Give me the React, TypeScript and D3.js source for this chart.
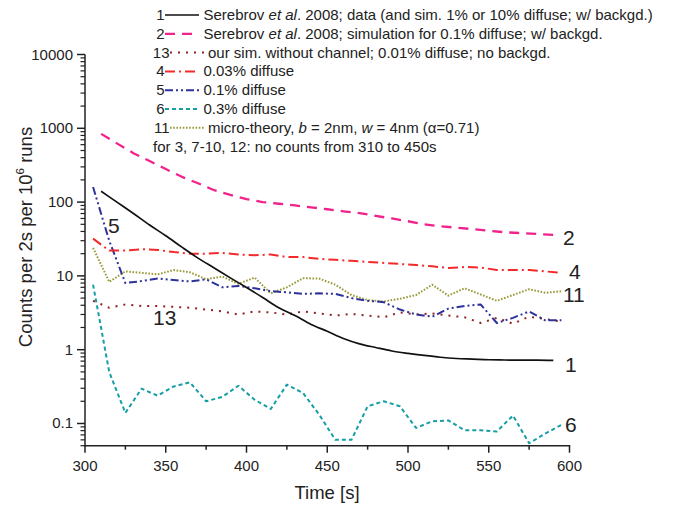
import * as d3 from "d3";

// time grids (s)
const tOdd = [305, 315, 325, 335, 345, 355, 365, 375, 385, 395, 405, 415, 425, 435, 445, 455, 465, 475, 485, 495, 505, 515, 525, 535, 545, 555, 565, 575, 585, 595];
const tEven = [310, 320, 330, 340, 350, 360, 370, 380, 390, 400, 410, 420, 430, 440, 450, 460, 470, 480, 490, 500, 510, 520, 530, 540, 550, 560, 570, 580, 590];

// 1: Serebrov data
const s1 = [140, 99, 70, 49, 35, 24.5, 17.4, 12.8, 9.4, 6.95, 5.1, 3.7, 2.9, 2.2, 1.78, 1.42, 1.2, 1.07, 0.96, 0.89, 0.835, 0.79, 0.76, 0.745, 0.73, 0.725, 0.72, 0.72, 0.715];
// 2: Serebrov simulation
const s2 = [840, 620, 460, 360, 280, 220, 180, 145, 125, 110, 100, 95, 90, 85, 80, 75, 71, 65, 60, 55, 50, 47, 45, 43, 41, 39, 38, 37, 36];
// 13: our sim without channel
const s13 = [4.6, 3.7, 4.1, 3.9, 3.9, 3.8, 3.7, 3.5, 3.3, 3.0, 3.3, 3.2, 3.0, 3.3, 3.1, 2.9, 3.05, 2.9, 2.75, 3.2, 3.0, 3.1, 2.9, 2.75, 2.3, 2.7, 2.25, 2.8, 2.6, 2.4];
// 4: 0.03% diffuse
const s4 = [32, 22, 22, 23, 22.5, 21, 20, 20, 20.5, 19.5, 19, 19.5, 18, 18, 17, 16.5, 16, 15.5, 15, 14.5, 14, 13.5, 12.8, 13.2, 13, 12, 12, 12, 11.5, 11];
// 5: 0.1% diffuse
const s5 = [160, 30, 8, 8.5, 9.2, 8.8, 8.4, 9, 7, 7.3, 6.8, 6.2, 6, 5.7, 5.8, 5.7, 5, 4.6, 4.4, 3.5, 3.0, 2.8, 3.6, 3.9, 4.1, 2.3, 2.7, 3.3, 2.5, 2.5];
// 6: 0.3% diffuse
const s6 = [7.6, 0.5, 0.139, 0.296, 0.238, 0.318, 0.361, 0.2, 0.229, 0.325, 0.21, 0.157, 0.336, 0.259, 0.132, 0.06, 0.06, 0.171, 0.2, 0.171, 0.087, 0.107, 0.11, 0.081, 0.081, 0.078, 0.128, 0.054, 0.073, 0.096];
// 11: micro-theory
const s11 = [24, 8.3, 11.5, 11, 10.5, 12, 11.2, 9, 9.8, 7.8, 9.5, 5.8, 7.0, 9.3, 9.2, 7.6, 5.5, 4.7, 4.5, 4.9, 5.5, 7.6, 5.4, 6.8, 5.6, 4.6, 5.5, 6.6, 5.9, 6.2];

const xTicks = [300, 350, 400, 450, 500, 550, 600];
const yTicks = [0.1, 1, 10, 100, 1000, 10000];

const FONT = "'Liberation Sans', Arial, Helvetica, sans-serif";

const styles: Record<string, { color: string; dash: string; width: number }> = {
  "1": { color: "#111", dash: "", width: 1.7 },
  "2": { color: "#f0228c", dash: "10,7", width: 2.3 },
  "13": { color: "#8e2323", dash: "2,6", width: 2 },
  "4": { color: "#f42a2a", dash: "10,4,2,4", width: 2 },
  "5": { color: "#2e329c", dash: "8,3,2,3,2,3", width: 2 },
  "6": { color: "#169ea6", dash: "4,3", width: 2 },
  "11": { color: "#9a9a3a", dash: "1.6,1.6", width: 2 },
};

export default function App() {
  const W = 686, H = 508;
  const x = d3.scaleLinear().domain([300, 600]).range([85, 569.5]);
  const y = d3.scaleLog().domain([0.05, 10000]).range([445.7, 54.5]);

  const series = [
    { id: "6", t: tOdd, v: s6 },
    { id: "13", t: tOdd, v: s13 },
    { id: "11", t: tOdd, v: s11 },
    { id: "5", t: tOdd, v: s5 },
    { id: "4", t: tOdd, v: s4 },
    { id: "2", t: tEven, v: s2 },
    { id: "1", t: tEven, v: s1, smooth: true },
  ];

  const path = (t: number[], v: number[], smooth?: boolean) =>
    d3.line<number>()
      .x((_, i) => x(t[i]))
      .y((d) => y(d))
      .curve(smooth ? d3.curveMonotoneX : d3.curveLinear)(v) || "";

  const minorX = d3.range(300, 601, 25).filter((d) => d % 50 !== 0);
  const minorY: number[] = [];
  [0.01, 0.1, 1, 10, 100, 1000].forEach((dec) => {
    for (let k = 2; k <= 9; k++) {
      const val = dec * k;
      if (val >= 0.05 && val < 10000) minorY.push(val);
    }
  });

  const axisColor = "#222";
  const x0 = x.range()[0];
  const yb = y.range()[0];

  const legendRows = [
    { id: "1", text: <>Serebrov <tspan fontStyle="italic">et al</tspan>. 2008; data (and sim. 1% or 10% diffuse; w/ backgd.)</> },
    { id: "2", text: <>Serebrov <tspan fontStyle="italic">et al</tspan>. 2008; simulation for 0.1% diffuse; w/ backgd.</> },
    { id: "13", text: <>our sim. without channel; 0.01% diffuse; no backgd.</> },
    { id: "4", text: <>0.03% diffuse</> },
    { id: "5", text: <>0.1% diffuse</> },
    { id: "6", text: <>0.3% diffuse</> },
    { id: "11", text: <>micro-theory, <tspan fontStyle="italic">b</tspan> = 2nm, <tspan fontStyle="italic">w</tspan> = 4nm (α=0.71)</> },
  ];

  const curveLabels = [
    { s: "5", px: 108, py: 233 },
    { s: "13", px: 153, py: 325 },
    { s: "2", px: 563, py: 245 },
    { s: "4", px: 569, py: 279 },
    { s: "11", px: 563, py: 302 },
    { s: "1", px: 565, py: 372 },
    { s: "6", px: 565, py: 432 },
  ];

  return (
    <svg width={W} height={H} style={{ position: "absolute", left: 0, top: 0, background: "#fff" }} fontFamily={FONT}>
      {/* series */}
      {series.map((s) => {
        const st = styles[s.id];
        return (
          <path key={s.id} d={path(s.t, s.v, s.smooth)} fill="none" stroke={st.color}
            strokeWidth={st.width} strokeDasharray={st.dash || undefined} strokeLinejoin="round" />
        );
      })}

      {/* axes */}
      <line x1={x0} x2={x0} y1={y(10000)} y2={yb + 0.75} stroke={axisColor} strokeWidth={1.5} />
      <line x1={x0 - 0.75} x2={x.range()[1] + 0.75} y1={yb} y2={yb} stroke={axisColor} strokeWidth={1.5} />
      {xTicks.map((t) => (
        <g key={"xt" + t}>
          <line x1={x(t)} x2={x(t)} y1={yb} y2={yb + 7} stroke={axisColor} strokeWidth={1.5} />
          <text x={x(t)} y={471} fontSize={15} textAnchor="middle" fill="#222">{t}</text>
        </g>
      ))}
      {minorX.map((t) => (
        <line key={"xm" + t} x1={x(t)} x2={x(t)} y1={yb} y2={yb + 4} stroke={axisColor} strokeWidth={1.5} />
      ))}
      {yTicks.map((v) => (
        <g key={"yt" + v}>
          <line x1={x0 - 8} x2={x0} y1={y(v)} y2={y(v)} stroke={axisColor} strokeWidth={1.5} />
          <text x={x0 - 12} y={y(v) + 5} fontSize={15} textAnchor="end" fill="#222">{v}</text>
        </g>
      ))}
      {minorY.map((v) => (
        <line key={"ym" + v} x1={x0 - 4.5} x2={x0} y1={y(v)} y2={y(v)} stroke={axisColor} strokeWidth={1.2} />
      ))}

      {/* axis titles */}
      <text x={327} y={499} fontSize={18.5} textAnchor="middle" fill="#222">Time [s]</text>
      <text transform="translate(32,237) rotate(-90)" fontSize={18.5} textAnchor="middle" fill="#222">
        Counts per 2s per 10<tspan fontSize={11.5} dy={-8}>6</tspan><tspan dy={8}> runs</tspan>
      </text>

      {/* legend */}
      {legendRows.map((r, i) => {
        const st = styles[r.id];
        const cy = 15 + i * 18.8;
        const two = r.id.length > 1;
        const lx0 = two ? 170 : 165;
        const lx1 = two ? 205 : 199;
        const tx = two ? 208 : 203.5;
        return (
          <g key={"lg" + r.id}>
            <text x={lx0 - 0.5} y={cy + 5} fontSize={15} textAnchor="end" fill="#222">{r.id}</text>
            <line x1={lx0} x2={lx1} y1={cy} y2={cy} stroke={st.color} strokeWidth={st.width}
              strokeDasharray={st.dash || undefined} />
            <text x={tx} y={cy + 5} fontSize={15} fill="#222">{r.text}</text>
          </g>
        );
      })}
      <text x={153} y={15 + 7 * 18.8 + 5} fontSize={15} fill="#222">for 3, 7-10, 12: no counts from 310 to 450s</text>

      {/* curve labels */}
      {curveLabels.map((c) => (
        <text key={"cl" + c.s} x={c.px} y={c.py} fontSize={21} fill="#222">{c.s}</text>
      ))}
    </svg>
  );
}
